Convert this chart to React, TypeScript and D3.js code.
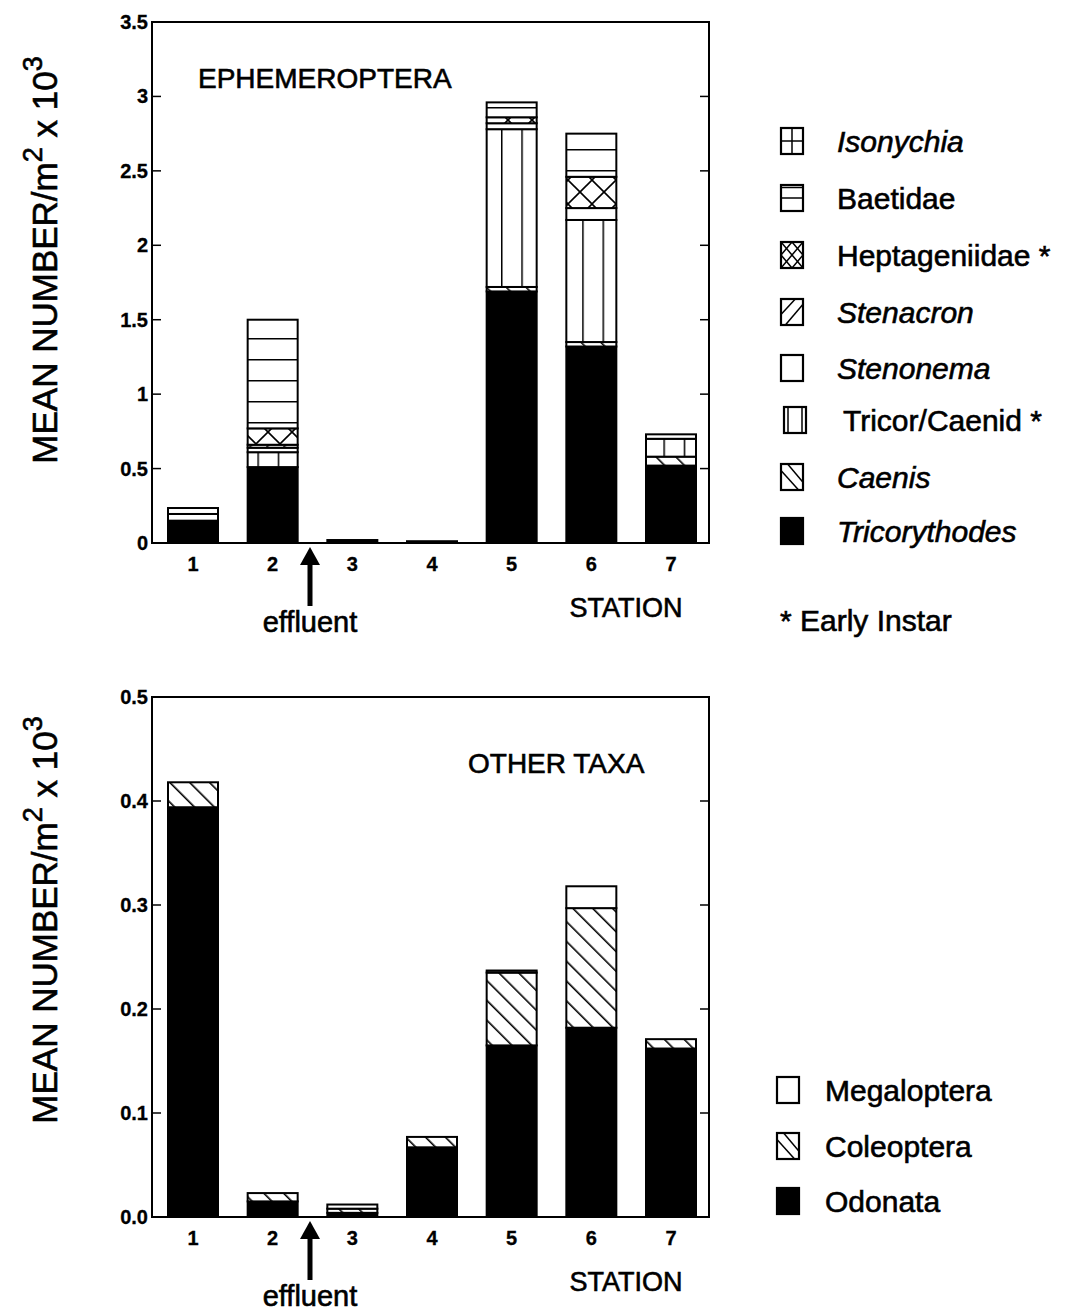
import React from 'react';
import * as d3 from 'd3';

// ---------- DATA ----------
const stations = [1, 2, 3, 4, 5, 6, 7];

// Ephemeroptera (mean number / m2 x 10^3), stacked bottom -> top
const tricorythodes = [0.15, 0.51, 0.02, 0.012, 1.69, 1.32, 0.52];
const caenis = [0, 0, 0, 0, 0.03, 0.03, 0.06];
const tricorCaenid = [0, 0.10, 0, 0, 1.06, 0.82, 0.12];
const stenonema = [0.045, 0.03, 0, 0, 0.04, 0.08, 0];
const stenacron = [0, 0.02, 0, 0, 0, 0, 0];
const heptageniidae = [0, 0.11, 0, 0, 0.04, 0.21, 0];
const baetidae = [0.04, 0.73, 0, 0, 0.10, 0.29, 0.03];
const isonychia = [0, 0, 0, 0, 0, 0, 0];

// Other taxa
const odonata = [0.394, 0.015, 0.004, 0.067, 0.165, 0.182, 0.162];
const coleoptera = [0.024, 0.008, 0.004, 0.010, 0.070, 0.115, 0.009];
const megaloptera = [0, 0, 0.004, 0, 0.002, 0.021, 0];

const ephemTicks = [0, 0.5, 1, 1.5, 2, 2.5, 3, 3.5];
const ephemTickLabels = ['0', '0.5', '1', '1.5', '2', '2.5', '3', '3.5'];
const otherTicks = [0, 0.1, 0.2, 0.3, 0.4, 0.5];
const otherTickLabels = ['0.0', '0.1', '0.2', '0.3', '0.4', '0.5'];

const ephemKeys = ['Tricorythodes', 'Caenis', 'TricorCaenid', 'Stenonema', 'Stenacron', 'Heptageniidae', 'Baetidae', 'Isonychia'];
const ephemSeries = [tricorythodes, caenis, tricorCaenid, stenonema, stenacron, heptageniidae, baetidae, isonychia];
const otherKeys = ['Odonata', 'Coleoptera', 'Megaloptera'];
const otherSeries = [odonata, coleoptera, megaloptera];

// legend (top -> bottom)
const ephemLegendKeys = ['Isonychia', 'Baetidae', 'Heptageniidae', 'Stenacron', 'Stenonema', 'TricorCaenid', 'Caenis', 'Tricorythodes'];
const ephemLegendLabels = ['Isonychia', 'Baetidae', 'Heptageniidae *', 'Stenacron', 'Stenonema', 'Tricor/Caenid *', 'Caenis', 'Tricorythodes'];
const ephemLegendItalic = [true, false, false, true, true, false, true, true];
const otherLegendKeys = ['Megaloptera', 'Coleoptera', 'Odonata'];
const otherLegendLabels = ['Megaloptera', 'Coleoptera', 'Odonata'];

// ---------- STYLE ----------
const FONT = '"Liberation Sans", Arial, Helvetica, sans-serif';
const TXT = { fontFamily: FONT, fill: '#000', stroke: '#000', strokeWidth: 0.6 } as const;
const fillFor: Record<string, string> = {
  Tricorythodes: '#000',
  Odonata: '#000',
  Caenis: 'url(#pBack)',
  Coleoptera: 'url(#pBack)',
  TricorCaenid: 'url(#pVert)',
  Stenonema: '#fff',
  Megaloptera: '#fff',
  Stenacron: 'url(#pFwd)',
  Heptageniidae: 'url(#pCross)',
  Baetidae: 'url(#pHoriz)',
  Isonychia: 'url(#pGrid)',
};

function buildStack(keys: string[], series: number[][]) {
  const rows = stations.map((s, i) => {
    const r: any = { station: s };
    keys.forEach((k, j) => (r[k] = series[j][i]));
    return r;
  });
  return d3.stack().keys(keys)(rows);
}

function LegendGlyph({ k, x, y, w, h }: { k: string; x: number; y: number; w: number; h: number }) {
  const lines: any[] = [];
  const L = (x1: number, y1: number, x2: number, y2: number, i: number) => (
    <line key={i} x1={x + x1} y1={y + y1} x2={x + x2} y2={y + y2} stroke="#000" strokeWidth={1.5} />
  );
  if (k === 'Isonychia') { lines.push(L(w / 2, 0, w / 2, h, 1)); lines.push(L(0, h / 2, w, h / 2, 2)); }
  if (k === 'Baetidae') { lines.push(L(0, h / 2, w, h / 2, 1)); lines.push(L(0, 2.5, w, 2.5, 2)); }
  if (k === 'Heptageniidae') {
    lines.push(L(0, h / 2, w / 2, 0, 1)); lines.push(L(w / 2, 0, w, h / 2, 2));
    lines.push(L(0, h / 2, w / 2, h, 3)); lines.push(L(w / 2, h, w, h / 2, 4));
    lines.push(L(0, 0, w, h, 5)); lines.push(L(w, 0, 0, h, 6));
  }
  if (k === 'Stenacron') { lines.push(L(0, h * 0.6, w * 0.65, 0, 1)); lines.push(L(w * 0.2, h, w, h * 0.2, 2)); }
  if (k === 'TricorCaenid') { lines.push(L(4, 0, 4, h, 1)); lines.push(L(w - 4, 0, w - 4, h, 2)); }
  if (k === 'Caenis' || k === 'Coleoptera') { lines.push(L(0, h * 0.25, w * 0.8, h, 1)); lines.push(L(w * 0.3, 0, w, h * 0.7, 2)); }
  const fill = k === 'Tricorythodes' || k === 'Odonata' ? '#000' : '#fff';
  return (
    <g>
      <rect x={x} y={y} width={w} height={h} fill={fill} stroke="#000" strokeWidth={2.2} />
      {lines}
    </g>
  );
}

function Panel(props: {
  top: number; bottom: number; maxV: number; keys: string[]; series: number[][];
  ticks: number[]; tickLabels: string[]; title: string; titleX: number; titleY: number;
  labelCenterY: number;
}) {
  const { top, bottom, maxV, keys, series, ticks, tickLabels, title, titleX, titleY, labelCenterY } = props;
  const left = 152, right = 709;
  const y = d3.scaleLinear().domain([0, maxV]).range([bottom, top]);
  const x = d3.scaleLinear().domain([1, 7]).range([193, 671]);
  const bw = 50;
  const stack = buildStack(keys, series);
  return (
    <g>
      {/* bars */}
      {stack.map((layer: any) =>
        layer.map((d: any, i: number) => {
          const h = y(d[0]) - y(d[1]);
          if (h <= 0.01) return null;
          return (
            <rect key={layer.key + i} x={x(stations[i]) - bw / 2} y={y(d[1])} width={bw} height={h}
              fill={fillFor[layer.key]} stroke="#000" strokeWidth={2} />
          );
        })
      )}
      {/* frame */}
      <rect x={left} y={top} width={right - left} height={bottom - top} fill="none" stroke="#000" strokeWidth={2} />
      {/* y ticks */}
      {ticks.map((t, i) => (
        <g key={'t' + i}>
          <line x1={left} x2={left + 9} y1={y(t)} y2={y(t)} stroke="#000" strokeWidth={1.5} />
          <line x1={right - 9} x2={right} y1={y(t)} y2={y(t)} stroke="#000" strokeWidth={1.5} />
          <text x={left - 4} y={y(t) + 7} textAnchor="end" {...TXT} fontSize={20} fontWeight="bold" strokeWidth={0.3}>{tickLabels[i]}</text>
        </g>
      ))}
      {/* x labels */}
      {stations.map((s) => (
        <text key={'x' + s} x={x(s)} y={bottom + 28} textAnchor="middle" {...TXT} fontSize={20} fontWeight="bold" strokeWidth={0.3}>{s}</text>
      ))}
      <text x={titleX} y={titleY} {...TXT} fontSize={28}>{title}</text>
      {/* y-axis title */}
      <text transform={`translate(57,${labelCenterY}) rotate(-90)`} textAnchor="middle" {...TXT} fontSize={35}>
        MEAN NUMBER/m<tspan fontSize={27} dy={-15}>2</tspan><tspan dy={15}> x 10</tspan><tspan fontSize={27} dy={-15}>3</tspan>
      </text>
      {/* effluent arrow */}
      <path d={`M310,${bottom + 4} L320,${bottom + 22} L300,${bottom + 22} Z`} fill="#000" />
      <rect x={307.5} y={bottom + 20} width={5} height={43} fill="#000" />
      <text x={310} y={bottom + 89} textAnchor="middle" {...TXT} fontSize={29}>effluent</text>
      <text x={626} y={bottom + 74} textAnchor="middle" {...TXT} fontSize={27}>STATION</text>
    </g>
  );
}

export default function App() {
  const W = 1079, H = 1311;
  const ephemRows = [141, 198, 255, 312, 368, 420, 477, 531];
  const otherRows = [1090, 1146, 1201];
  return (
    <svg width={W} height={H} style={{ position: 'absolute', left: 0, top: 0, background: '#fff' }}>
      <defs>
        <pattern id="pHoriz" patternUnits="userSpaceOnUse" width={60} height={21} y={2}>
          <rect width={60} height={21} fill="#fff" />
          <line x1={0} x2={60} y1={0.75} y2={0.75} stroke="#000" strokeWidth={1.5} />
        </pattern>
        <pattern id="pGrid" patternUnits="userSpaceOnUse" width={25} height={21}>
          <rect width={25} height={21} fill="#fff" />
          <line x1={0} x2={25} y1={0.75} y2={0.75} stroke="#000" strokeWidth={1.5} />
          <line x1={12.5} x2={12.5} y1={0} y2={21} stroke="#000" strokeWidth={1.5} />
        </pattern>
        <pattern id="pVert" patternUnits="userSpaceOnUse" width={20.3} height={20} x={501}>
          <rect width={20.3} height={20} fill="#fff" />
          <line x1={0.75} x2={0.75} y1={0} y2={20} stroke="#000" strokeWidth={1.5} />
        </pattern>
        <pattern id="pCross" patternUnits="userSpaceOnUse" width={24} height={24} x={568} y={180}>
          <rect width={24} height={24} fill="#fff" />
          <line x1={0} y1={0} x2={24} y2={24} stroke="#000" strokeWidth={1.6} />
          <line x1={24} y1={0} x2={0} y2={24} stroke="#000" strokeWidth={1.6} />
        </pattern>
        <pattern id="pFwd" patternUnits="userSpaceOnUse" width={12} height={12} patternTransform="rotate(45)">
          <rect width={12} height={12} fill="#fff" />
          <line x1={0.75} x2={0.75} y1={0} y2={12} stroke="#000" strokeWidth={1.5} />
        </pattern>
        <pattern id="pBack" patternUnits="userSpaceOnUse" width={14} height={14} patternTransform="rotate(-45)">
          <rect width={14} height={14} fill="#fff" />
          <line x1={0.75} x2={0.75} y1={0} y2={14} stroke="#000" strokeWidth={1.7} />
        </pattern>
      </defs>
      <rect width={W} height={H} fill="#fff" />

      <Panel top={22} bottom={543} maxV={3.5} keys={ephemKeys} series={ephemSeries}
        ticks={ephemTicks} tickLabels={ephemTickLabels} title="EPHEMEROPTERA" titleX={198} titleY={88} labelCenterY={260} />
      <Panel top={697} bottom={1217} maxV={0.5} keys={otherKeys} series={otherSeries}
        ticks={otherTicks} tickLabels={otherTickLabels} title="OTHER TAXA" titleX={468} titleY={773} labelCenterY={920} />

      {/* legend top */}
      {ephemLegendKeys.map((k, i) => {
        const bx = k === 'TricorCaenid' ? 784 : 781;
        const tx = k === 'TricorCaenid' ? 843 : 837;
        return (
          <g key={'le' + k}>
            <LegendGlyph k={k} x={bx} y={ephemRows[i] - 13} w={22} h={26} />
            <text x={tx} y={ephemRows[i] + 11} {...TXT} fontSize={30} fontStyle={ephemLegendItalic[i] ? 'italic' : 'normal'}>
              {ephemLegendLabels[i]}
            </text>
          </g>
        );
      })}
      <text x={780} y={631} {...TXT} fontSize={30}>* Early Instar</text>

      {/* legend bottom */}
      {otherLegendKeys.map((k, i) => (
        <g key={'lo' + k}>
          <LegendGlyph k={k} x={777} y={otherRows[i] - 13} w={22} h={26} />
          <text x={825} y={otherRows[i] + 11} {...TXT} fontSize={30}>{otherLegendLabels[i]}</text>
        </g>
      ))}
    </svg>
  );
}
